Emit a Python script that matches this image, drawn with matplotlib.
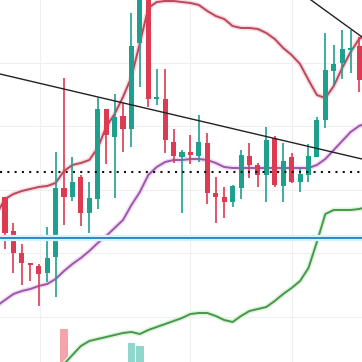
# Candlestick chart with Bollinger bands, trend lines and volume
import numpy as np
import matplotlib
matplotlib.use("Agg")
import matplotlib.pyplot as plt

# OHLC per candle (price units)
opens  = [165, 131, 109, 99, 96, 89, 105, 174, 165, 185, 149, 163, 253, 225, 246, 233,
          319, 385, 263, 263, 220, 205, 210, 206, 219, 169, 165, 160, 174, 206, 197, 187,
          224, 176, 205, 180, 187, 205, 242, 291, 299, 312, 316]
highs  = [165, 139, 118, 99, 98, 135, 210, 284, 205, 187, 180, 264, 253, 268, 259, 349,
          400, 395, 293, 293, 233, 212, 227, 247, 229, 185, 175, 177, 212, 219, 199, 235,
          226, 219, 209, 194, 218, 245, 329, 317, 332, 332, 325]
lows   = [113, 89, 77, 81, 56, 80, 65, 137, 161, 136, 129, 153, 198, 164, 210, 215,
          275, 255, 257, 209, 199, 149, 198, 200, 158, 139, 144, 155, 163, 184, 175, 160,
          175, 160, 179, 170, 180, 205, 234, 277, 283, 289, 270]
closes = [129, 109, 99, 97, 88, 104, 174, 165, 180, 149, 164, 253, 227, 245, 233, 316,
          380, 263, 265, 222, 206, 210, 207, 220, 169, 165, 160, 176, 207, 197, 187, 222,
          177, 201, 180, 188, 206, 242, 292, 298, 313, 314, 282]

# Volume per candle
volumes = [180, 150, 140, 120, 130, 160, 250, 391, 210, 170, 140, 260, 200, 190, 150, 352,
           344, 280, 120, 200, 150, 130, 110, 140, 210, 150, 120, 140, 190, 130, 110, 200,
           220, 170, 150, 100, 160, 230, 280, 150, 160, 120, 210]

# Bollinger bands, candle -1 .. 43
band_idx = list(range(-1, 44))
upper = [148, 163, 168, 171, 173, 175, 176, 179, 191, 197, 199, 202, 214, 235, 248, 265,
         285, 319, 354, 360, 361, 361, 360, 359, 357, 351, 346, 343, 336, 334, 334, 333,
         329, 323, 314, 307, 298, 282, 267, 264, 276, 294, 310, 323, 328]
middle = [56, 62, 68, 71, 73, 76, 78, 83, 91, 98, 104, 111, 119, 126, 134, 142,
          157, 170, 187, 195, 200, 202, 202, 203, 203, 202, 199, 195, 194, 194, 194, 194,
          194, 194, 194, 194, 194, 194, 197, 203, 212, 221, 230, 236, 239]
lower = [-36, -39, -32, -29, -27, -23, -20, -13, -2, 7, 16, 21, 23, 25, 27, 29,
         30, 28, 32, 35, 38, 41, 44, 48, 49, 49, 46, 42, 40, 46, 51, 53,
         55, 61, 68, 74, 81, 94, 120, 148, 152, 152, 152, 153, 155]

# horizontal levels and trend line anchors
support_level = 124
dotted_level = 190
trend1_x, trend1_y = [-0.593, 42.35], [288, 203]
trend2_x, trend2_y = [36.3, 42.35], [362, 325]

UP = '#1fa08e'
DOWN = '#dc3b52'

fig = plt.figure(figsize=(3.62, 3.62), dpi=100)
ax2 = fig.add_axes([0, 0, 1, 1])
ax = fig.add_axes([0, 0, 1, 1])
ax.patch.set_visible(False)

x = np.arange(len(opens))
xlim = (-0.593, 42.35)

# grid
for gy in [299, 236, 172, 109, 45]:
    ax.axhline(gy, color='#efefef', lw=0.8, zorder=0)
for gx in [4.15, 21.95, 34.05]:
    ax.axvline(gx, color='#efefef', lw=0.8, zorder=0)

# volume
vcol = ['#8fd6cc' if c >= o else '#f4a3aa' for o, c in zip(opens, closes)]
ax2.bar(x, volumes, width=0.88, color=vcol)
ax2.set_xlim(xlim)
ax2.set_ylim(300, 1300)
ax2.axis('off')

# bands with soft glow
for vals, col, glow in [(upper, '#b9495c', '#fbd9df'),
                        (middle, '#9d58ab', '#f1dcf5'),
                        (lower, '#47984a', '#dcf3dc')]:
    ax.plot(band_idx, vals, color=glow, lw=3.5, solid_capstyle='round', zorder=1)
    ax.plot(band_idx, vals, color=col, lw=1.4, zorder=2)

# candles
for i in range(len(opens)):
    col = UP if closes[i] >= opens[i] else DOWN
    ax.vlines(x[i], lows[i], highs[i], color=col, lw=1.2, zorder=3)
    lo, hi = min(opens[i], closes[i]), max(opens[i], closes[i])
    ax.bar(x[i], max(hi - lo, 1.5), bottom=lo, width=0.6, color=col, zorder=4)

# levels and trend lines
ax.axhline(support_level, color='#d2f4fa', lw=4.5, zorder=5)
ax.axhline(support_level, color='#2f86c4', lw=1.4, zorder=6)
ax.axhline(dotted_level, color='#111111', lw=1.5, linestyle=(0, (1, 2.5)), zorder=6)
ax.plot(trend1_x, trend1_y, color='#222222', lw=1.0, zorder=6)
ax.plot(trend2_x, trend2_y, color='#222222', lw=1.0, zorder=6)

ax.set_xlim(xlim)
ax.set_ylim(0, 362)
ax.axis('off')

fig.savefig('out.png', dpi=100, facecolor='white')
